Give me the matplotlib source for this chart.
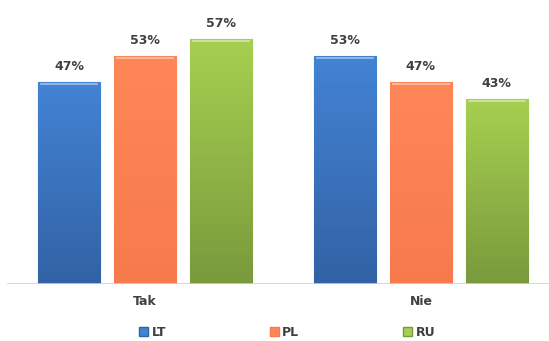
import matplotlib.pyplot as plt
import numpy as np
from matplotlib.colors import LinearSegmentedColormap
from matplotlib.patches import Patch

categories = ['Tak', 'Nie']
series = ['LT', 'PL', 'RU']
values = {
    'LT': [47, 53],
    'PL': [53, 47],
    'RU': [57, 43],
}
colors = {
    'LT': ('#4383d4', '#3262a5'),
    'PL': ('#ff8757', '#f77a4c'),
    'RU': ('#a6d050', '#7a9a3c'),
}

fig = plt.figure(figsize=(5.49, 3.41), dpi=100)
ax = fig.add_axes([0.0, 0.167, 1.0, 0.757])

x = np.arange(len(categories))
width = 0.225
step = 0.275

for i, name in enumerate(series):
    top_c, bot_c = colors[name]
    cmap = LinearSegmentedColormap.from_list(name, [bot_c, top_c])
    xs = x + (i - 1) * step
    bars = ax.bar(xs, values[name], width, color=top_c,
                  edgecolor=bot_c, linewidth=0.8, zorder=2)
    for b, v in zip(bars, values[name]):
        x0 = b.get_x()
        grad = np.linspace(0, 1, 100).reshape(-1, 1)
        im = ax.imshow(grad, cmap=cmap, origin='lower', aspect='auto',
                       extent=[x0, x0 + width, 0, v], zorder=3)
        im.set_clip_path(b)
        # light bevel along the top edge
        ax.plot([x0 + 0.01, x0 + width - 0.01], [v - 0.4, v - 0.4],
                color='white', alpha=0.5, lw=1.2, zorder=4)
        ax.text(x0 + width / 2, v + 2, f'{v}%', ha='center', va='bottom',
                fontsize=9, fontweight='bold', color='#404040')

ax.set_xlim(-0.525, 1.464)
ax.set_ylim(0, 60)
ax.axhline(0, xmin=0.015, xmax=0.998, color='#d0d0d0', lw=1.2, zorder=5)
for xi, cat in zip(x, categories):
    ax.text(xi, -2.6, cat, ha='center', va='top', fontsize=9,
            fontweight='bold', color='#404040')

for s in ax.spines.values():
    s.set_visible(False)
ax.set_xticks([])
ax.set_yticks([])

handles = [Patch(facecolor=colors[n][0], edgecolor=colors[n][1], label=n)
           for n in series]
fig.legend(handles=handles, loc='center', bbox_to_anchor=(0.523, 0.025),
           ncol=3, frameon=False, handlelength=0.7, handleheight=0.7,
           handletextpad=0.3, columnspacing=8.3,
           prop={'size': 9, 'weight': 'bold'}, labelcolor='#404040')

fig.savefig('out.png', dpi=100)
